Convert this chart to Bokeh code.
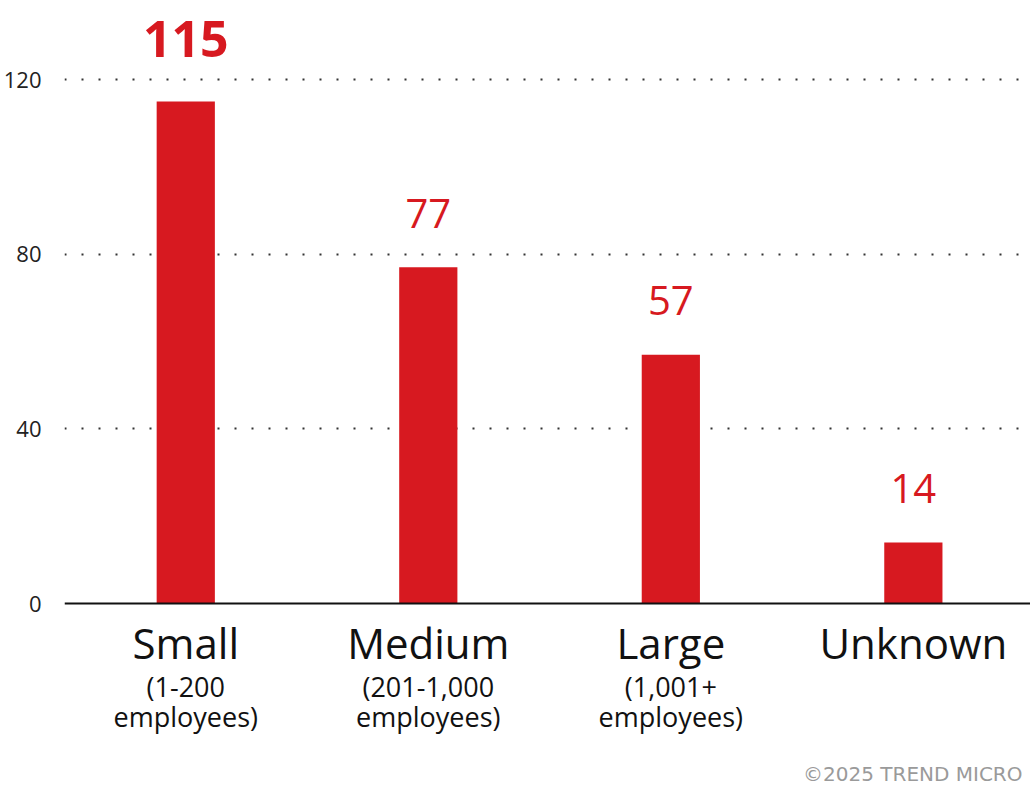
from bokeh.plotting import figure
from bokeh.models import Range1d, FixedTicker, Span, Label, ColumnDataSource
from bokeh.core.properties import value
from bokeh.embed import file_html
from bokeh.resources import INLINE

categories = ["Small", "Medium", "Large", "Unknown"]
sub_line1 = ["(1-200", "(201-1,000", "(1,001+", ""]
sub_line2 = ["employees)", "employees)", "employees)", ""]
counts = [115, 77, 57, 14]
y_ticks = [0, 40, 80, 120]

RED = "#D71920"
FONT = "Open Sans"

xs = list(range(len(categories)))
top = max(counts)
src = ColumnDataSource(dict(
    x=xs, cat=categories, s1=sub_line1, s2=sub_line2, v=counts, vt=[str(c) for c in counts],
    fs=["50px" if c == top else "40px" for c in counts],
    fw=["bold" if c == top else "normal" for c in counts],
    off=[-62 if c == top else -54 for c in counts],
    zero=[0] * len(counts),
))

p = figure(width=1030, height=790, output_backend="svg", toolbar_location=None,
           x_range=Range1d(-0.5, 3.483), y_range=Range1d(-42.8, 138.1),
           x_axis_location=None, min_border_left=64, min_border_right=0,
           min_border_top=0, min_border_bottom=0)
p.outline_line_color = None
p.background_fill_color = "white"
p.border_fill_color = "white"

p.yaxis.ticker = FixedTicker(ticks=y_ticks)
p.yaxis.axis_line_color = None
p.yaxis.major_tick_line_color = None
p.yaxis.minor_tick_line_color = None
p.yaxis.major_label_standoff = 17
p.yaxis.major_label_text_font = FONT
p.yaxis.major_label_text_font_size = "22px"
p.yaxis.major_label_text_color = "#222222"

p.xgrid.visible = False
p.ygrid.ticker = FixedTicker(ticks=[t for t in y_ticks if t > 0])
p.ygrid.grid_line_color = "#333333"
p.ygrid.grid_line_width = 2
p.ygrid.grid_line_dash = "2 15"

p.vbar(x="x", top="v", width=0.24, source=src, color=RED, line_color=None)
p.add_layout(Span(location=0, dimension="width", line_color="#111111", line_width=2))

p.text(x="x", y="v", text="vt", source=src, text_align="center", text_baseline="alphabetic",
       y_offset="off", text_color=RED, text_font=value(FONT), text_font_size="fs",
       text_font_style="fw")

p.text(x="x", y="zero", text="cat", source=src, text_align="center", text_baseline="alphabetic",
       y_offset=39, text_color="#111111", text_font=value(FONT), text_font_size="42px")

for col, off in (("s1", 83), ("s2", 113)):
    p.text(x="x", y="zero", text=col, source=src, text_align="center", text_baseline="alphabetic",
           y_offset=off, text_color="#111111", text_font=value(FONT), text_font_size="27px")

p.add_layout(Label(x=2.545, y=-39.0, text="©2025 TREND MICRO", text_font="DejaVu Sans",
                   text_font_size="20px", text_color="#9a9a9a", text_baseline="alphabetic"))

open("out.html", "w").write(file_html(p, INLINE))
